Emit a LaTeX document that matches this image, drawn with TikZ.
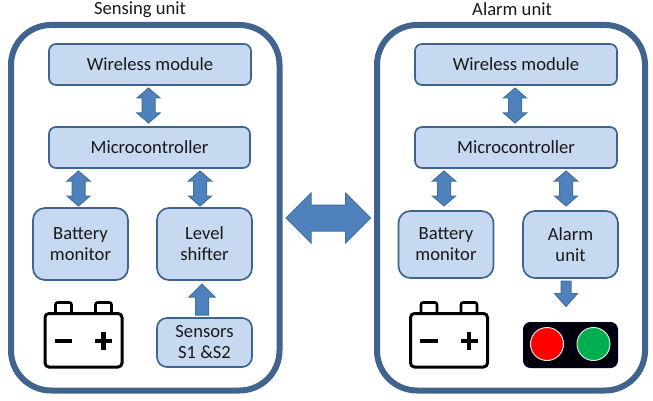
\documentclass[tikz,border=0pt]{standalone}
\usepackage{fontspec}
\setmainfont{Carlito}
\usetikzlibrary{calc}
\definecolor{boxfill}{HTML}{C6D9F1}
\definecolor{boxline}{HTML}{41648F}
\definecolor{framecol}{HTML}{41648F}
\definecolor{arrowfill}{HTML}{4F81BD}
\definecolor{arrowline}{HTML}{41719C}
\tikzset{
  x=1pt,y=-1pt,
  frame/.style={draw=framecol,line width=6pt,rounded corners=40pt,fill=white},
  block/.style={draw=boxline,line width=1.7pt,fill=boxfill,rounded corners=#1,inner sep=0pt,outer sep=0pt,align=center,font=\fontsize{18.6}{21}\selectfont,text=black!90},
  block/.default=7pt,
  title/.style={font=\fontsize{18.6}{21}\selectfont,inner sep=0pt,text=black!90},
  blockarrow/.style={draw=arrowline,line width=1pt,fill=arrowfill,line join=miter},
  batt/.style={draw=black,line width=3pt,rounded corners=4pt,fill=white},
  battsign/.style={draw=black,line width=4.5pt},
}
% double block arrow between two named coordinates
\newcommand{\dblarrow}[5]{% A, B, head length, head half-width, shaft half-width
  \draw[blockarrow]
    (#1) -- ($($(#1)!#3!(#2)$)!#4!90:(#2)$) -- ($($(#1)!#3!(#2)$)!#5!90:(#2)$)
    -- ($($(#2)!#3!(#1)$)!#5!-90:(#1)$) -- ($($(#2)!#3!(#1)$)!#4!-90:(#1)$)
    -- (#2) -- ($($(#2)!#3!(#1)$)!#4!90:(#1)$) -- ($($(#2)!#3!(#1)$)!#5!90:(#1)$)
    -- ($($(#1)!#3!(#2)$)!#5!-90:(#2)$) -- ($($(#1)!#3!(#2)$)!#4!-90:(#2)$) -- cycle;
}
% single block arrow from A to tip B
\newcommand{\onearrow}[5]{%
  \draw[blockarrow]
    (#2) -- ($($(#2)!#3!(#1)$)!#4!90:(#1)$) -- ($($(#2)!#3!(#1)$)!#5!90:(#1)$)
    -- ($(#1)!#5!-90:(#2)$) -- ($(#1)!#5!90:(#2)$)
    -- ($($(#2)!#3!(#1)$)!#5!-90:(#1)$) -- ($($(#2)!#3!(#1)$)!#4!-90:(#1)$) -- cycle;
}
% battery icon, dx = horizontal offset
\newcommand{\battery}[1]{%
  \begin{scope}[xshift=#1pt]
    \draw[batt,line width=2.6pt,rounded corners=2pt] (55.5,313) -- (55.5,302.5) -- (71.5,302.5) -- (71.5,313);
    \draw[batt,line width=2.6pt,rounded corners=2pt] (95.5,313) -- (95.5,302.5) -- (111.5,302.5) -- (111.5,313);
    \draw[batt] (45,313.5) rectangle (122,367);
    \draw[battsign] (54.5,341) -- (72,341);
    \draw[battsign] (95,341) -- (112,341);
    \draw[battsign] (103.5,332) -- (103.5,350);
  \end{scope}
}
\begin{document}
\begin{tikzpicture}
\useasboundingbox (0,0) rectangle (653,401);
\fill[white] (0,0) rectangle (653,401);
\draw[frame] (11,25) rectangle (279.5,390.5);
\draw[frame] (377,25) rectangle (645,390.5);
\node[title] (t1) at (140,9.5) {Sensing unit};
\node[title] (t2) at (512,9.5) {Alarm unit};

\node[block,minimum width=202pt,minimum height=41pt] (w1) at (150,64.5) {Wireless module};
\node[block,minimum width=201pt,minimum height=41pt] (m1) at (149.5,147.5) {Microcontroller};
\node[block=12pt,minimum width=95pt,minimum height=72pt] (b1) at (80.5,244) {Battery\\monitor};
\node[block=12pt,minimum width=95pt,minimum height=72pt] (l1) at (204.5,244) {Level\\shifter};
\node[block=10pt,minimum width=95pt,minimum height=49pt] (s1) at (204.5,342.5) {Sensors\\S1 \&S2};

\node[block,minimum width=202pt,minimum height=41pt] (w2) at (516,64.5) {Wireless module};
\node[block,minimum width=202pt,minimum height=41pt] (m2) at (516,147.5) {Microcontroller};
\node[block=12pt,minimum width=95pt,minimum height=67pt] (b2) at (446,244.5) {Battery\\monitor};
\node[block=12pt,minimum width=95pt,minimum height=67pt] (a2) at (570.5,244.5) {Alarm\\unit};
\node[draw=black!85!blue,line width=1pt,fill=black!95!blue,rounded corners=7pt,minimum width=94pt,minimum height=45pt,inner sep=0pt,outer sep=0pt] (tl) at (570.5,345) {};
\node[draw=white!90!black,line width=1pt,fill=red,circle,minimum size=33pt,inner sep=0pt] (red) at (547,344) {};
\node[draw=white!90!black,line width=1pt,fill={rgb,255:red,0;green,176;blue,80},circle,minimum size=33pt,inner sep=0pt] (green) at (593.5,344) {};

\battery{0}
\battery{365.5}

\coordinate (w1m) at ($(w1.south)+(-1.5,3)$); \coordinate (m1w) at ($(m1.north)+(-1,-4)$);
\dblarrow{w1m}{m1w}{10pt}{11.5pt}{6.5pt}
\coordinate (m1b) at ($(m1.south west)+(29.5,3)$); \coordinate (b1m) at ($(b1.north)+(-2,-2)$);
\dblarrow{m1b}{b1m}{10pt}{11.5pt}{6.5pt}
\coordinate (m1l) at ($(m1.south east)+(-50,3)$); \coordinate (l1m) at ($(l1.north)+(-4.5,-2)$);
\dblarrow{m1l}{l1m}{10pt}{11.5pt}{6.5pt}
\coordinate (s1l) at ($(s1.north)+(-2.5,-3)$); \coordinate (l1s) at ($(l1.south)+(-2.5,4)$);
\onearrow{s1l}{l1s}{13pt}{13pt}{6.5pt}

\coordinate (w2m) at ($(w2.south)+(-1,3)$); \coordinate (m2w) at ($(m2.north)+(-1,-4)$);
\dblarrow{w2m}{m2w}{10pt}{11.5pt}{6.5pt}
\coordinate (m2b) at ($(m2.south west)+(29,3)$); \coordinate (b2m) at ($(b2.north)+(-2,-5)$);
\dblarrow{m2b}{b2m}{10pt}{11.5pt}{6.5pt}
\coordinate (m2a) at ($(m2.south east)+(-51,3)$); \coordinate (a2m) at ($(a2.north)+(-4.5,-5)$);
\dblarrow{m2a}{a2m}{10pt}{11.5pt}{6.5pt}
\coordinate (a2t) at ($(a2.south)+(-4.5,3)$); \coordinate (ta2) at ($(tl.north)+(-4.5,-16)$);
\onearrow{a2t}{ta2}{13pt}{11.5pt}{5pt}

\coordinate (fL) at (286,218); \coordinate (fR) at (370.5,218);
\dblarrow{fL}{fR}{25pt}{25pt}{13pt}
\end{tikzpicture}
\end{document}
